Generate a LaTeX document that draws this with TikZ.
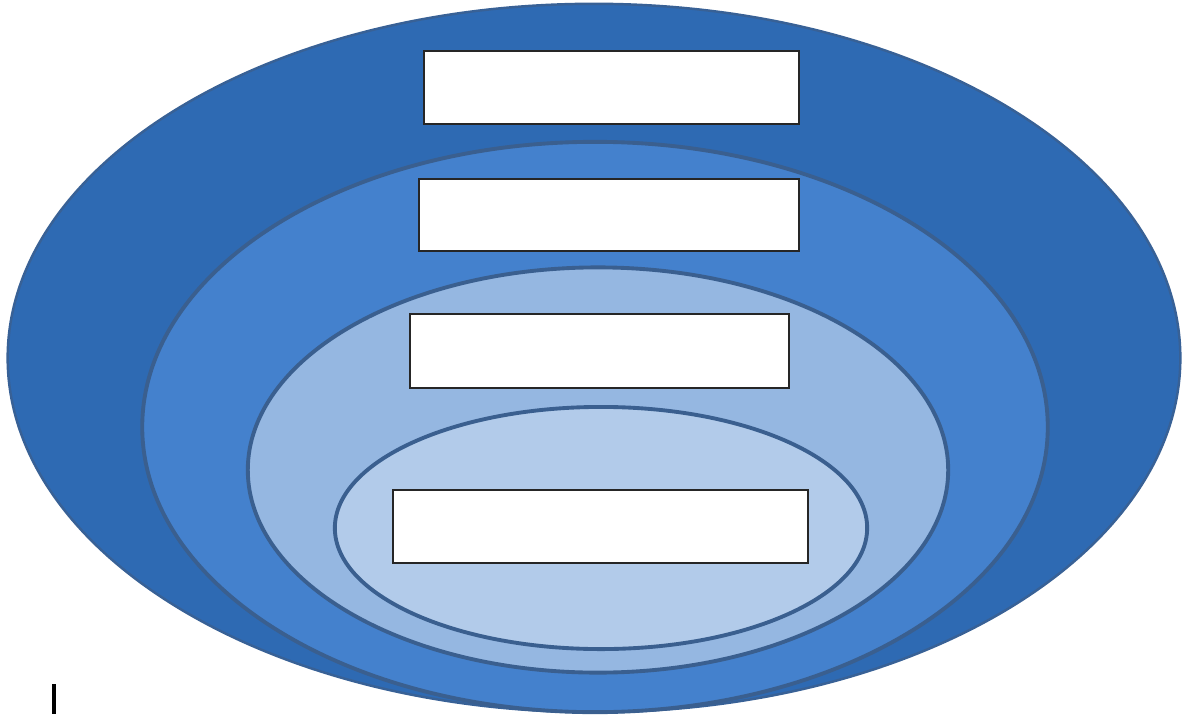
\documentclass[tikz,border=0pt]{standalone}
\usepackage{xcolor}
\usepackage{tikz}
\usetikzlibrary{shapes.geometric,positioning}
\definecolor{coucheun}{HTML}{2E6AB3}
\definecolor{couchedeux}{HTML}{4481CD}
\definecolor{couchetrois}{HTML}{95B7E1}
\definecolor{couchequatre}{HTML}{B2CBEA}
\definecolor{bordcouche}{HTML}{3A5F8F}

\begin{document}
\begin{tikzpicture}[
    x=0.01cm,y=-0.01cm,
    couche/.style  = {ellipse, draw=bordcouche, line width=1.1pt,
                      inner sep=0pt, outer sep=0pt},
    cadre/.style   = {rectangle, draw=black!85, fill=white,
                      line width=0.6pt, inner sep=0pt},
  ]
  \useasboundingbox (0,0) rectangle (1188,715);

  % ── Couches imbriquées ──────────────────────────────────────────────────
  \node[couche,fill=coucheun,draw=bordcouche!80!coucheun,line width=0.7pt,
        minimum width=11.72cm,minimum height=7.08cm] (c1) at (594,358) {};
  \node[couche,fill=couchedeux,
        minimum width=9.05cm,minimum height=5.70cm]  (c2) at (595,427) {};
  \node[couche,fill=couchetrois,
        minimum width=7.00cm,minimum height=4.05cm]  (c3) at (598,470) {};
  \node[couche,fill=couchequatre,
        minimum width=5.32cm,minimum height=2.42cm]  (c4) at (601,528) {};

  % ── Cadres vides ────────────────────────────────────────────────────────
  \node[cadre,minimum width=3.75cm,minimum height=0.73cm] (t1) at (611.5,87.5) {};
  \node[cadre,minimum width=3.80cm,minimum height=0.72cm] (t2) at (609,215) {};
  \node[cadre,minimum width=3.79cm,minimum height=0.74cm] (t3) at (599.5,351) {};
  \node[cadre,minimum width=4.15cm,minimum height=0.73cm] (t4) at (600.5,526.5) {};

  % ── Curseur ─────────────────────────────────────────────────────────────
  \draw[black,line width=0.9pt] (54,684) -- (54,714);

\end{tikzpicture}
\end{document}
